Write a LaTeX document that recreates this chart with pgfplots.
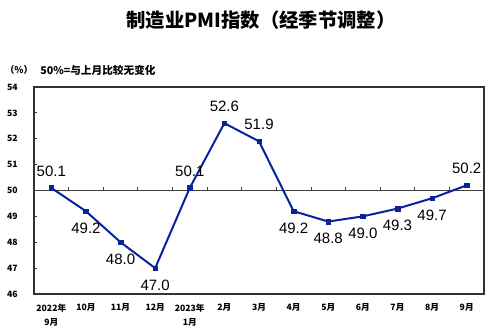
\documentclass[border=0pt]{standalone}
\usepackage{pgfplots}
\pgfplotsset{compat=1.18}
\usepackage{pgfplotstable}
\usepackage{fontspec}
\setmainfont{Liberation Sans}
\newfontfamily\cjk{Noto Sans CJK SC}
\definecolor{pmiblue}{RGB}{10,35,155}

\pgfplotstableread{
x y pos label
0 50.1 1 50.1
1 49.2 -1 49.2
2 48.0 -1 48.0
3 47.0 -1 47.0
4 50.1 1 50.1
5 52.6 1 52.6
6 51.9 1 51.9
7 49.2 -1 49.2
8 48.8 -1 48.8
9 49.0 -1 49.0
10 49.3 -1 49.3
11 49.7 -1 49.7
12 50.2 1 50.2
}\pmidata

\begin{document}
\begin{tikzpicture}
\useasboundingbox (0,0) rectangle (375pt,250.5pt);
\node[font=\cjk\bfseries\fontsize{14.5}{16}\selectfont] at (195.75pt,235.5pt) {制造业PMI指数（经季节调整）};
\node[font=\cjk\bfseries\fontsize{7}{8}\selectfont] at (14.25pt,198pt) {（\%）};
\node[font=\cjk\bfseries\fontsize{8}{9}\selectfont, anchor=west, inner sep=0pt] at (30pt,198pt) {50\%=与上月比较无变化};
\begin{axis}[
  at={(25.5pt,30pt)}, anchor=south west, scale only axis,
  width=337.5pt, height=155.25pt,
  xmin=-0.5, xmax=12.5, ymin=46, ymax=54,
  clip=false,
  xtick={0,...,12},
  xticklabels={{2022年\\9月},10月,11月,12月,{2023年\\1月},2月,3月,4月,5月,6月,7月,8月,9月},
  major x tick style={draw=none},
  xticklabel style={font=\cjk\bfseries\fontsize{6.5}{10.5}\selectfont, align=center, anchor=north, inner sep=0pt, yshift=-7pt},
  ytick={46,...,54}, ytick pos=left, tick align=inside,
  major tick length=2.5pt,
  yticklabel style={font=\cjk\bfseries\fontsize{6.5}{8}\selectfont, anchor=east, inner sep=0pt, xshift=-12pt},
  /pgf/number format/assume math mode=true,
  axis line style={black!80, line width=0.8pt},
  tick style={black!80, line width=0.6pt},
]
\draw[black!75, line width=0.7pt] (axis cs:-0.5,50) -- (axis cs:12.5,50);
\pgfplotsinvokeforeach{0.5,1.5,...,11.5}{
  \draw[black!75, line width=0.6pt] (axis cs:#1,50) -- ([yshift=2.5pt]axis cs:#1,50);
}
\addplot[color=pmiblue, line width=1.5pt, mark=square*,
  mark size=1.7pt, mark options={solid, fill=pmiblue, line width=0.3pt},
  point meta=explicit symbolic,
  visualization depends on={\thisrow{pos}\as\lp},
  nodes near coords,
  nodes near coords style={anchor=center, text=black, yshift={\lp*12.75pt},
     font=\fontsize{11.25}{12}\selectfont},
] table[x=x, y=y, meta=label] {\pmidata};
\end{axis}
\end{tikzpicture}
\end{document}
